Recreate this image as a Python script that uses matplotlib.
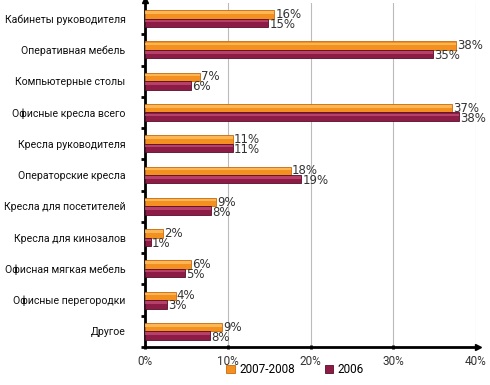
import matplotlib
matplotlib.use("Agg")
from matplotlib import pyplot as plt
import numpy as np

plt.rcParams['font.family'] = ['Roboto', 'DejaVu Sans']

categories = ["Кабинеты руководителя", "Оперативная мебель", "Компьютерные столы",
              "Офисные кресла всего", "Кресла руководителя", "Операторские кресла",
              "Кресла для посетителей", "Кресла для кинозалов", "Офисная мягкая мебель",
              "Офисные перегородки", "Другое"]
s2007 = [15.6, 37.6, 6.6, 37.1, 10.6, 17.6, 8.6, 2.2, 5.6, 3.7, 9.3]
s2006 = [14.9, 34.8, 5.6, 37.9, 10.6, 18.9, 8.0, 0.7, 4.8, 2.6, 7.9]
xticks = [0, 10, 20, 30, 40]

orange, orange_edge, orange_hi = "#F39020", "#C86A10", "#FFC060"
maroon, maroon_edge, maroon_hi = "#8C1C45", "#5A0C28", "#C8507A"

fig = plt.figure(figsize=(4.9, 3.85), dpi=100)
ax = fig.add_axes([145 / 490, 1 - 347 / 385, (476 - 145) / 490, 344 / 385])

y = np.arange(len(categories))
h = 0.27
ax.barh(y - h / 2, s2007, h, color=orange, edgecolor=orange_edge, linewidth=0.6,
        label="2007-2008", zorder=3)
ax.barh(y + h / 2, s2006, h, color=maroon, edgecolor=maroon_edge, linewidth=0.6,
        label="2006", zorder=3)
# light strip on top of each bar, for the glossy look
ax.barh(y - h / 2 - h * 0.22, s2007, h * 0.3, color=orange_hi, linewidth=0,
        alpha=0.8, zorder=3.5)
ax.barh(y + h / 2 - h * 0.22, s2006, h * 0.3, color=maroon_hi, linewidth=0,
        alpha=0.7, zorder=3.5)

# value labels, slightly wider font like the original
for i in range(len(categories)):
    ax.text(s2007[i] + 0.15, y[i] - h / 2, f"{s2007[i]:.0f}%", va="center",
            ha="left", fontsize=8.5, color="#333333", zorder=4,
            family="DejaVu Sans")
    ax.text(s2006[i] + 0.15, y[i] + h / 2 + 0.05, f"{s2006[i]:.0f}%", va="center",
            ha="left", fontsize=8.5, color="#333333", zorder=4,
            family="DejaVu Sans")

ax.set_xlim(0, 40)
ax.set_ylim(len(categories) - 0.5, -0.5)
ax.set_xticks(xticks)
ax.set_xticklabels([f"{t}%" for t in xticks], fontsize=8.5, color="#333333")
ax.set_yticks(y)
ax.set_yticklabels(categories, fontsize=7.6, color="#111111")
ax.tick_params(axis="y", length=0, pad=14)
ax.tick_params(axis="x", length=3, width=2, direction="inout", pad=4)
ax.set_yticks(np.arange(len(categories)) + 0.5, minor=True)
ax.tick_params(axis="y", which="minor", length=3, width=2, direction="out")

ax.grid(axis="x", color="#BBBBBB", linewidth=0.8, zorder=0)
for side in ["top", "right"]:
    ax.spines[side].set_visible(False)
ax.spines["left"].set_linewidth(2)
ax.spines["bottom"].set_linewidth(2)
ax.plot(0, 1.01, "^k", markersize=5, transform=ax.transAxes, clip_on=False)
ax.plot(1.005, 0, ">k", markersize=5, transform=ax.transAxes, clip_on=False)

fig.legend(loc="lower center", bbox_to_anchor=(295 / 490, -0.005), ncol=2,
           frameon=False, fontsize=8.5, handlelength=0.7, handleheight=0.7,
           columnspacing=2.5, handletextpad=0.4)

fig.savefig("out.png", dpi=100)
